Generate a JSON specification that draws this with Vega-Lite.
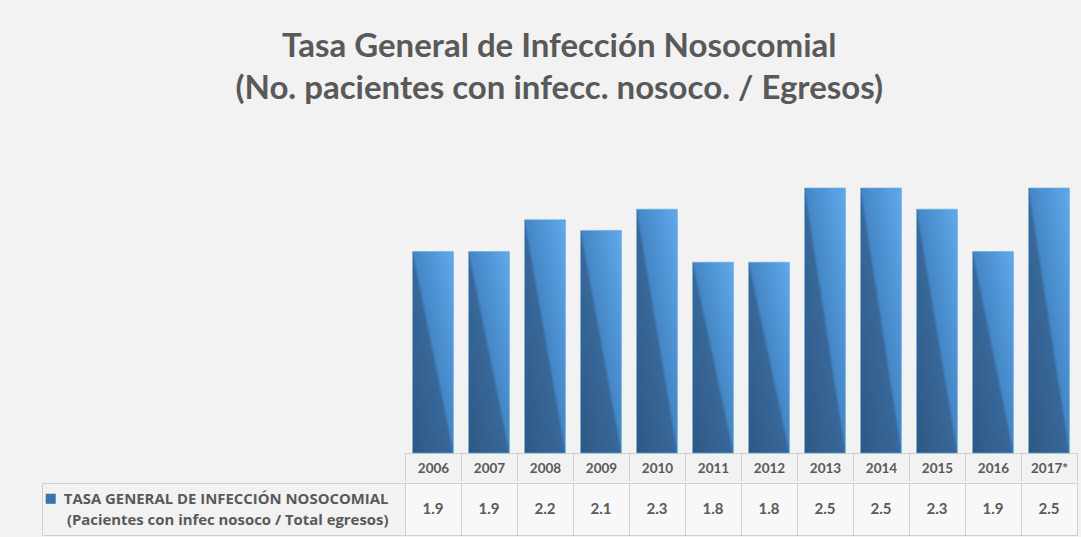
{
  "$schema": "https://vega.github.io/schema/vega-lite/v6.json",
  "background": "#f2f2f2",
  "padding": {"top": 31, "left": 41, "right": 4, "bottom": 4},
  "title": {
    "text": ["Tasa General de Infección Nosocomial", "(No. pacientes con infecc. nosoco. / Egresos)"],
    "font": "Lato",
    "fontSize": 33,
    "fontWeight": "bold",
    "color": "#595959",
    "lineHeight": 42,
    "anchor": "middle",
    "frame": "bounds",
    "offset": 11
  },
  "data": {
    "values": [
      {"anio": "2006", "tasa": 1.9, "serie": "TASA GENERAL DE INFECCIÓN NOSOCOMIAL|(Pacientes con infec nosoco / Total egresos)"},
      {"anio": "2007", "tasa": 1.9, "serie": "TASA GENERAL DE INFECCIÓN NOSOCOMIAL|(Pacientes con infec nosoco / Total egresos)"},
      {"anio": "2008", "tasa": 2.2, "serie": "TASA GENERAL DE INFECCIÓN NOSOCOMIAL|(Pacientes con infec nosoco / Total egresos)"},
      {"anio": "2009", "tasa": 2.1, "serie": "TASA GENERAL DE INFECCIÓN NOSOCOMIAL|(Pacientes con infec nosoco / Total egresos)"},
      {"anio": "2010", "tasa": 2.3, "serie": "TASA GENERAL DE INFECCIÓN NOSOCOMIAL|(Pacientes con infec nosoco / Total egresos)"},
      {"anio": "2011", "tasa": 1.8, "serie": "TASA GENERAL DE INFECCIÓN NOSOCOMIAL|(Pacientes con infec nosoco / Total egresos)"},
      {"anio": "2012", "tasa": 1.8, "serie": "TASA GENERAL DE INFECCIÓN NOSOCOMIAL|(Pacientes con infec nosoco / Total egresos)"},
      {"anio": "2013", "tasa": 2.5, "serie": "TASA GENERAL DE INFECCIÓN NOSOCOMIAL|(Pacientes con infec nosoco / Total egresos)"},
      {"anio": "2014", "tasa": 2.5, "serie": "TASA GENERAL DE INFECCIÓN NOSOCOMIAL|(Pacientes con infec nosoco / Total egresos)"},
      {"anio": "2015", "tasa": 2.3, "serie": "TASA GENERAL DE INFECCIÓN NOSOCOMIAL|(Pacientes con infec nosoco / Total egresos)"},
      {"anio": "2016", "tasa": 1.9, "serie": "TASA GENERAL DE INFECCIÓN NOSOCOMIAL|(Pacientes con infec nosoco / Total egresos)"},
      {"anio": "2017*", "tasa": 2.5, "serie": "TASA GENERAL DE INFECCIÓN NOSOCOMIAL|(Pacientes con infec nosoco / Total egresos)"}
    ]
  },
  "spacing": -8,
  "config": {
    "view": {"stroke": null},
    "axis": {"labelFont": "Lato", "labelFontWeight": "bold", "labelColor": "#595959"}
  },
  "vconcat": [
    {
      "width": 672,
      "height": 336,
      "mark": {
        "type": "bar",
        "width": {"band": 0.73},
        "stroke": "#6aa9e0",
        "strokeWidth": 0.6,
        "fill": {
          "gradient": "linear",
          "x1": 0, "y1": 1, "x2": 1, "y2": 0,
          "stops": [
            {"offset": 0, "color": "#2d5884"},
            {"offset": 0.48, "color": "#386899"},
            {"offset": 0.52, "color": "#4587c6"},
            {"offset": 1, "color": "#5eaaec"}
          ]
        }
      },
      "encoding": {
        "x": {
          "field": "anio",
          "type": "nominal",
          "sort": null,
          "scale": {"paddingInner": 0, "paddingOuter": 0},
          "axis": {
            "title": null,
            "orient": "bottom",
            "domain": true,
            "domainColor": "#d0d0d0",
            "ticks": true,
            "tickColor": "#d0d0d0",
            "tickSize": 28,
            "tickBand": "extent",
            "labelAngle": 0,
            "labelFontSize": 13.5,
            "labelPadding": -20,
            "labelBaseline": "top"
          }
        },
        "y": {
          "field": "tasa",
          "type": "quantitative",
          "scale": {"domain": [0, 3.17]},
          "axis": null
        }
      }
    },
    {
      "width": 672,
      "height": 52,
      "view": {"stroke": "#d0d0d0", "fill": "#f8f8f8"},
      "layer": [
        {
          "mark": {"type": "text", "font": "Lato", "fontWeight": "bold", "fontSize": 15, "color": "#595959"},
          "encoding": {
            "x": {
              "field": "anio",
              "type": "nominal",
              "sort": null,
              "scale": {"paddingInner": 0, "paddingOuter": 0},
              "axis": {
                "title": null,
                "labels": false,
                "ticks": false,
                "domain": false,
                "grid": true,
                "gridColor": "#d0d0d0",
                "tickBand": "extent"
              }
            },
            "y": {
              "field": "serie",
              "type": "nominal",
              "scale": {"paddingInner": 0, "paddingOuter": 0},
              "axis": {
                "title": null,
                "orient": "left",
                "domain": false,
                "ticks": true,
                "tickColor": "#d0d0d0",
                "tickSize": 363,
                "tickBand": "extent",
                "labelExpr": "split(datum.label, '|')",
                "labelFont": "Open Sans",
                "labelFontSize": 14.9,
                "labelLineHeight": 21,
                "labelPadding": -346,
                "labelAlign": "right",
                "labelBaseline": "middle",
                "labelOffset": -10,
                "labelLimit": 400
              }
            },
            "text": {"field": "tasa", "type": "quantitative", "format": ".1f"}
          }
        },
        {
          "mark": {"type": "text", "opacity": 0},
          "encoding": {
            "y": {
              "field": "serie",
              "type": "nominal",
              "axis": {
                "title": null,
                "orient": "left",
                "offset": 363,
                "domain": true,
                "domainColor": "#d0d0d0",
                "ticks": false,
                "tickSize": 0,
                "labelExpr": "'■'",
                "labelFont": "DejaVu Sans",
                "labelFontSize": 13,
                "labelColor": "#3a72ab",
                "labelAlign": "left",
                "labelPadding": -2,
                "labelOffset": -11
              }
            },
            "text": {"value": ""}
          }
        }
      ],
      "resolve": {"axis": {"y": "independent"}}
    }
  ]
}
